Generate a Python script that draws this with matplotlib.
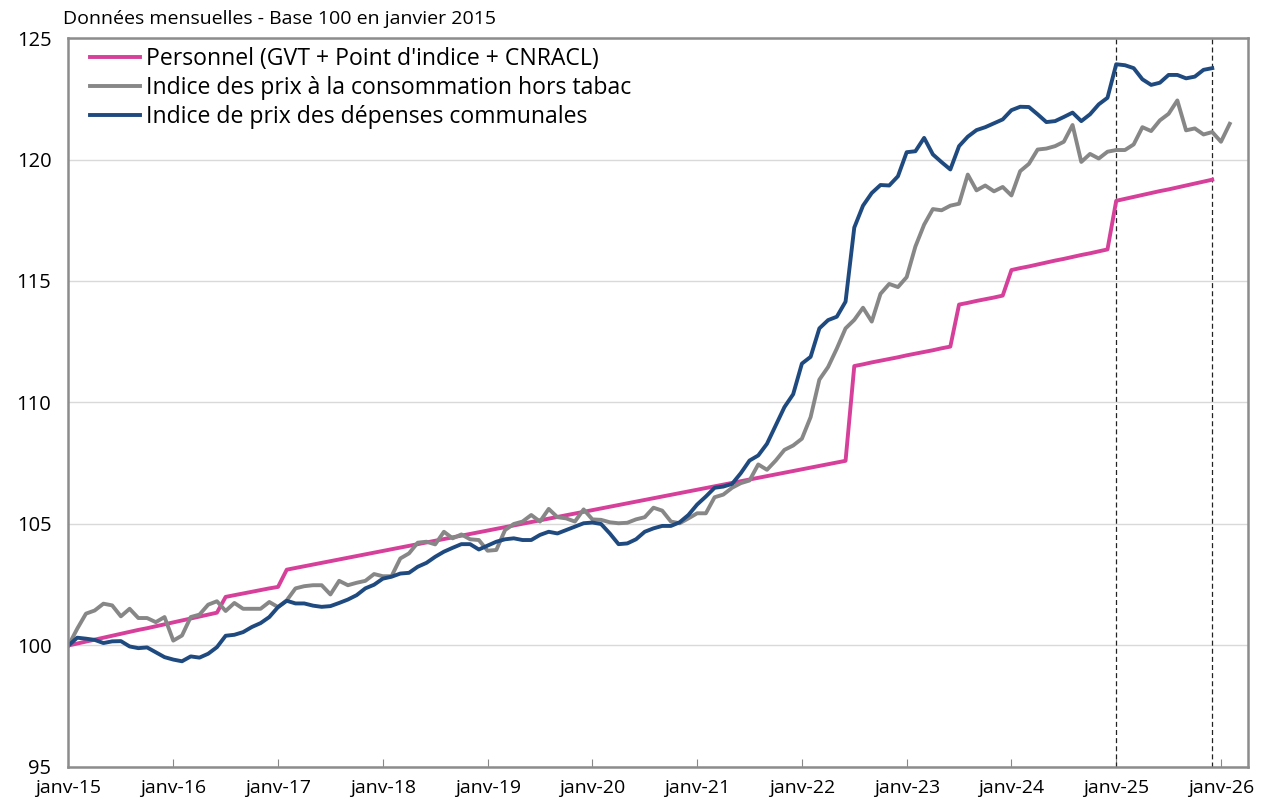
import matplotlib
matplotlib.use("Agg")
import matplotlib.pyplot as plt
import numpy as np

plt.rcParams['font.family'] = ['Open Sans', 'DejaVu Sans']

# Données mensuelles, janvier 2015 = indice 0
personnel = [
    100.00, 100.08, 100.16, 100.24, 100.32, 100.40, 100.48, 100.56, 100.64, 100.71, 100.79, 100.87,
    100.95, 101.03, 101.11, 101.19, 101.27, 101.35, 102.00, 102.07, 102.14, 102.21, 102.28, 102.35,
    102.41, 103.12, 103.19, 103.26, 103.33, 103.40, 103.47, 103.54, 103.61, 103.68, 103.75, 103.82,
    103.89, 103.96, 104.03, 104.10, 104.17, 104.24, 104.31, 104.38, 104.45, 104.52, 104.59, 104.66,
    104.73, 104.80, 104.87, 104.94, 105.01, 105.08, 105.15, 105.22, 105.29, 105.36, 105.43, 105.50,
    105.57, 105.64, 105.71, 105.78, 105.85, 105.92, 105.99, 106.06, 106.13, 106.20, 106.27, 106.34,
    106.41, 106.48, 106.55, 106.62, 106.69, 106.76, 106.83, 106.90, 106.97, 107.04, 107.11, 107.18,
    107.25, 107.32, 107.39, 107.46, 107.53, 107.60, 111.50, 111.57, 111.65, 111.72, 111.79, 111.86,
    111.94, 112.01, 112.08, 112.15, 112.23, 112.30, 114.03, 114.10, 114.18, 114.25, 114.32, 114.40,
    115.45, 115.53, 115.60, 115.68, 115.76, 115.84, 115.91, 115.99, 116.07, 116.14, 116.22, 116.30,
    118.30, 118.38, 118.46, 118.54, 118.62, 118.70, 118.77, 118.85, 118.93, 119.01, 119.09, 119.17,
]

ipc = [
    100.00, 100.69, 101.31, 101.44, 101.72, 101.65, 101.20, 101.51, 101.13, 101.13, 100.96, 101.17,
    100.20, 100.41, 101.17, 101.27, 101.68, 101.82, 101.42, 101.75, 101.51, 101.51, 101.51, 101.79,
    101.58, 101.86, 102.35, 102.44, 102.48, 102.48, 102.10, 102.66, 102.48, 102.58, 102.66, 102.94,
    102.85, 102.85, 103.58, 103.79, 104.23, 104.27, 104.16, 104.68, 104.41, 104.57, 104.37, 104.34,
    103.90, 103.93, 104.75, 105.00, 105.10, 105.37, 105.10, 105.62, 105.28, 105.23, 105.10, 105.60,
    105.19, 105.17, 105.07, 105.03, 105.05, 105.19, 105.28, 105.67, 105.55, 105.10, 105.03, 105.23,
    105.44, 105.44, 106.10, 106.21, 106.49, 106.68, 106.79, 107.45, 107.23, 107.61, 108.05, 108.23,
    108.51, 109.40, 110.94, 111.46, 112.22, 113.05, 113.40, 113.90, 113.33, 114.47, 114.88, 114.75,
    115.16, 116.42, 117.32, 117.96, 117.91, 118.10, 118.18, 119.38, 118.73, 118.93, 118.69, 118.87,
    118.52, 119.52, 119.82, 120.41, 120.45, 120.55, 120.73, 121.42, 119.90, 120.23, 120.04, 120.32,
    120.39, 120.39, 120.62, 121.33, 121.17, 121.61, 121.88, 122.43, 121.20, 121.28, 121.03, 121.13,
    120.73, 121.47,
]

communes = [
    100.00, 100.32, 100.28, 100.23, 100.10, 100.17, 100.18, 99.96, 99.89, 99.92, 99.72, 99.52,
    99.42, 99.35, 99.55, 99.50, 99.66, 99.93, 100.40, 100.44, 100.55, 100.76, 100.92, 101.17,
    101.58, 101.84, 101.73, 101.73, 101.64, 101.59, 101.62, 101.75, 101.89, 102.07, 102.35, 102.50,
    102.75, 102.83, 102.96, 102.99, 103.24, 103.40, 103.65, 103.86, 104.02, 104.17, 104.17, 103.95,
    104.11, 104.27, 104.37, 104.41, 104.34, 104.34, 104.55, 104.68, 104.61, 104.75, 104.89, 105.03,
    105.06, 105.00, 104.61, 104.17, 104.20, 104.37, 104.68, 104.82, 104.92, 104.92, 105.07, 105.37,
    105.80, 106.13, 106.49, 106.54, 106.65, 107.09, 107.61, 107.82, 108.30, 109.06, 109.81, 110.34,
    111.60, 111.88, 113.05, 113.39, 113.53, 114.15, 117.20, 118.10, 118.62, 118.95, 118.93, 119.31,
    120.30, 120.34, 120.89, 120.21, 119.89, 119.59, 120.55, 120.94, 121.21, 121.33, 121.49, 121.65,
    122.03, 122.17, 122.16, 121.86, 121.54, 121.58, 121.75, 121.93, 121.58, 121.86, 122.27, 122.54,
    123.92, 123.88, 123.76, 123.30, 123.07, 123.16, 123.48, 123.48, 123.34, 123.41, 123.69, 123.76,
]

labels = ["Personnel (GVT + Point d'indice + CNRACL)",
          "Indice des prix à la consommation hors tabac",
          "Indice de prix des dépenses communales"]
tick_labels = ['janv-%d' % a for a in range(15, 27)]
repere = [120, 131]  # janv-25 et déc-25

fig = plt.figure(figsize=(12.65, 8.07), dpi=100)
ax = fig.add_axes([0.0538, 0.0496, 0.9328, 0.9033])

ax.plot(np.arange(len(personnel)), personnel, color='#D6409A', lw=2.8, label=labels[0])
ax.plot(np.arange(len(ipc)), ipc, color='#878787', lw=2.8, label=labels[1])
ax.plot(np.arange(len(communes)), communes, color='#1F4A80', lw=2.8, label=labels[2])

for m in repere:
    ax.axvline(m, color='#222222', lw=0.9, ls=(0, (4, 2.5)), zorder=1)

ax.set_xlim(-0.05, 135.1)
ax.set_ylim(95, 125)
ax.set_yticks(range(95, 126, 5))
ax.set_xticks(range(0, 133, 12))
ax.set_xticklabels(tick_labels)
ax.tick_params(axis='x', direction='in', length=6, color='#888888', labelsize=14, pad=9)
ax.tick_params(axis='y', length=0, labelsize=14.5, pad=12)
ax.grid(axis='y', color='#D9D9D9', lw=1)
ax.set_axisbelow(True)
for s in ax.spines.values():
    s.set_color('#8C8C8C')
    s.set_linewidth(1.8)

ax.legend(loc='upper left', bbox_to_anchor=(0.0186, 0.988), frameon=False, fontsize=16.6,
          handlelength=2.15, handletextpad=0.3, labelspacing=0.22, borderaxespad=0, borderpad=0)

fig.text(0.05, 0.977, 'Données mensuelles - Base 100 en janvier 2015', fontsize=14, va='center')

fig.savefig('out.png', dpi=100)
